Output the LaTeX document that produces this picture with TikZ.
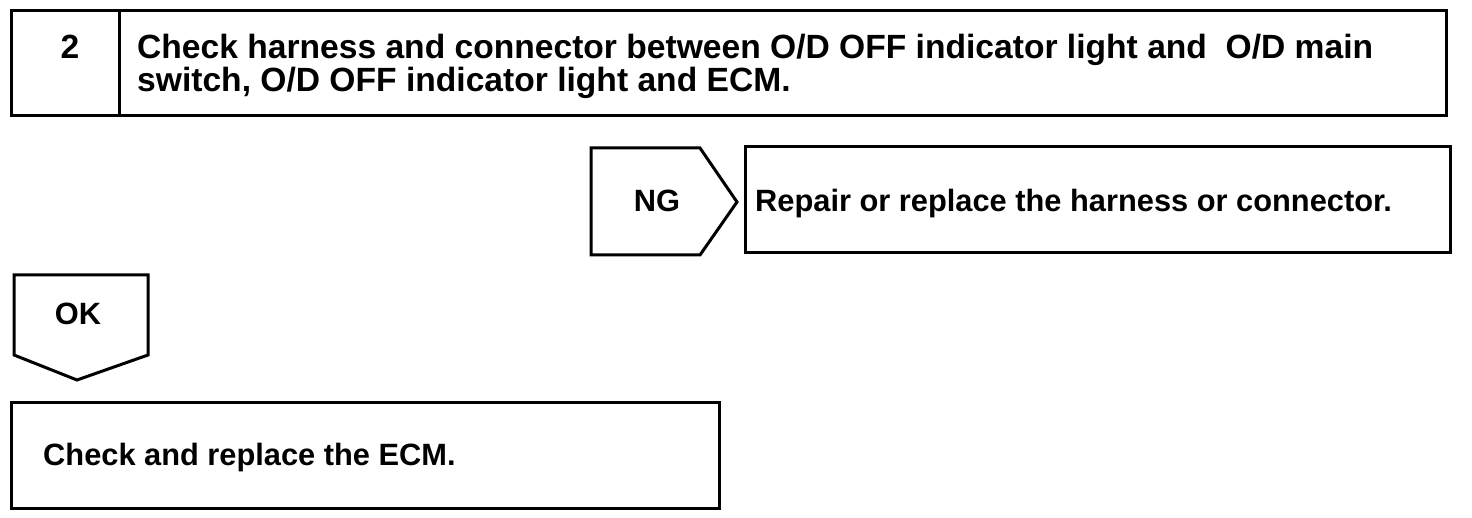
\documentclass[tikz,border=0pt]{standalone}
\usepackage{fontspec}
\setmainfont{Liberation Sans}
\begin{document}
\begin{tikzpicture}[x=1pt,y=-1pt,
  frame/.style={draw=black,line width=3pt,line join=miter},
  big/.style={font=\fontsize{33.6}{33}\selectfont\bfseries,inner sep=0pt,anchor=base west},
  txt/.style={font=\fontsize{30.8}{33}\selectfont\bfseries,inner sep=0pt,anchor=base west}]
\useasboundingbox (0,0) rectangle (1472,518);
% top box
\draw[frame] (11,11) rectangle (1446,116);
\draw[frame] (119,11) -- (119,116);
\node[big,anchor=base] (num) at (70,59) {2};
\node[big] (title1) at (137,59) {Check harness and connector between O/D OFF indicator light and \ O/D main};
\node[big] (title2) at (137,92) {switch, O/D OFF indicator light and ECM.};
% NG tag
\draw[frame] (591,148) -- (700,148) -- (737,202) -- (700,255) -- (591,255) -- cycle;
\node[txt,anchor=base] (ng) at (657,212) {NG};
\draw[frame] (745,147) rectangle (1450,253);
\node[txt] (repair) at (755,212) {Repair or replace the harness or connector.};
% OK tag
\draw[frame] (14,275) -- (148,275) -- (148,355) -- (77,380) -- (14,355) -- cycle;
\node[txt,anchor=base] (ok) at (78,325) {OK};
% bottom box
\draw[frame] (11,402) rectangle (719,508);
\node[txt] (ecm) at (43,465) {Check and replace the ECM.};
\end{tikzpicture}
\end{document}
